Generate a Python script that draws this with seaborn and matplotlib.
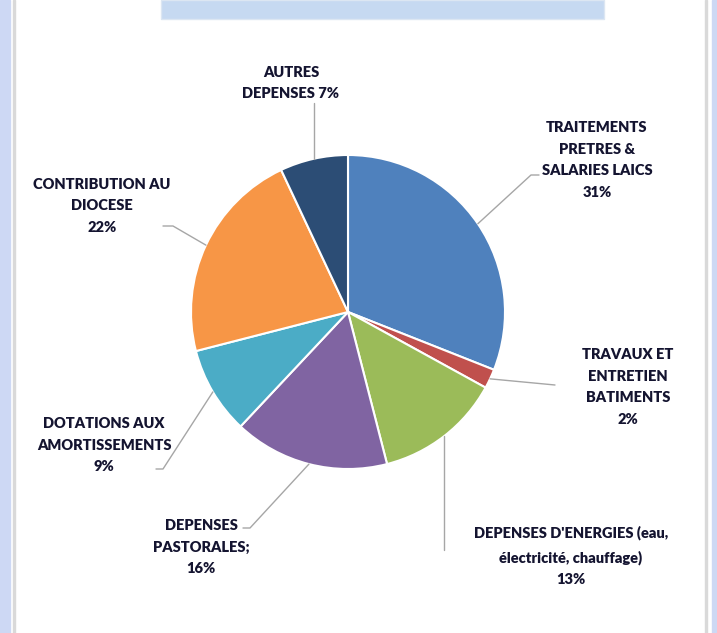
import numpy as np
import seaborn as sns
import matplotlib.pyplot as plt
from matplotlib.patches import Rectangle

# Data
categories = ["TRAITEMENTS\nPRETRES &\nSALARIES LAICS",
              "TRAVAUX ET\nENTRETIEN\nBATIMENTS",
              "DEPENSES D'ENERGIES (eau,\nélectricité, chauffage)",
              "DEPENSES\nPASTORALES;",
              "DOTATIONS AUX\nAMORTISSEMENTS",
              "CONTRIBUTION AU\nDIOCESE",
              "AUTRES\nDEPENSES"]
values = [31, 2, 13, 16, 9, 22, 7]
pct_sep = ["\n", "\n", "\n", "\n", "\n", "\n", " "]
colors = ["#4F81BD", "#C0504D", "#9BBB59", "#8064A2", "#4BACC6", "#F79646", "#2C4D75"]

sns.set_theme(style="white")
plt.rcParams['font.family'] = ['Lato', 'DejaVu Sans']

W, H = 717, 633
fig = plt.figure(figsize=(W / 100, H / 100), dpi=100)
ax = fig.add_axes([0, 0, 1, 1])

cx, cy, r = 348, 312, 157
wedges, _ = ax.pie(values, colors=colors, startangle=90, counterclock=False,
                   center=(cx, H - cy), radius=r,
                   wedgeprops=dict(edgecolor="white", linewidth=1.5))
ax.set_xlim(0, W)
ax.set_ylim(0, H)
ax.axis("off")

# frame decorations
ax.add_patch(Rectangle((0, 0), 10, H, color="#CDD8F4", zorder=0))
ax.add_patch(Rectangle((12.5, 0), 2, H, color="#D9D9D9", zorder=0))
ax.add_patch(Rectangle((704.5, 0), 2, H, color="#D9D9D9", zorder=0))
ax.add_patch(Rectangle((712, 0), 5, H, color="#CDD8F4", zorder=0))
ax.add_patch(Rectangle((161, H - 19), 443, 19, facecolor="#C6D9F1",
                       edgecolor="#DCE6F2", linewidth=1, zorder=1))

# label centres and leader elbows (pixel coords from top-left)
label_pos = [(597, 160), (628, 387), (571, 556), (201, 547), (104, 445), (102, 206), (291, 83)]
elbows = [[(531, 175), (539, 175)],
          [(555, 385)],
          [(None, 550)],
          [(250, 528), (243, 528)],
          [(163, 469), (156, 469)],
          [(173, 226), (163, 226)],
          [(None, 103)]]

for w, cat, v, sep, (lx, ly), elb in zip(wedges, categories, values, pct_sep, label_pos, elbows):
    ang = np.deg2rad((w.theta1 + w.theta2) / 2)
    ex = cx + r * np.cos(ang)
    ey = (H - cy) + r * np.sin(ang)
    xs, ys = [ex], [ey]
    for px, py in elb:
        xs.append(ex if px is None else px)
        ys.append(H - py)
    ax.plot(xs, ys, color="#A6A6A6", linewidth=1, zorder=3)
    ax.text(lx, H - ly, f"{cat}{sep}{v}%", ha="center", va="center",
            multialignment="center", fontsize=10.5, fontweight="heavy",
            color="#141430", linespacing=1.8)

fig.savefig("out.png", dpi=100, facecolor="white")
